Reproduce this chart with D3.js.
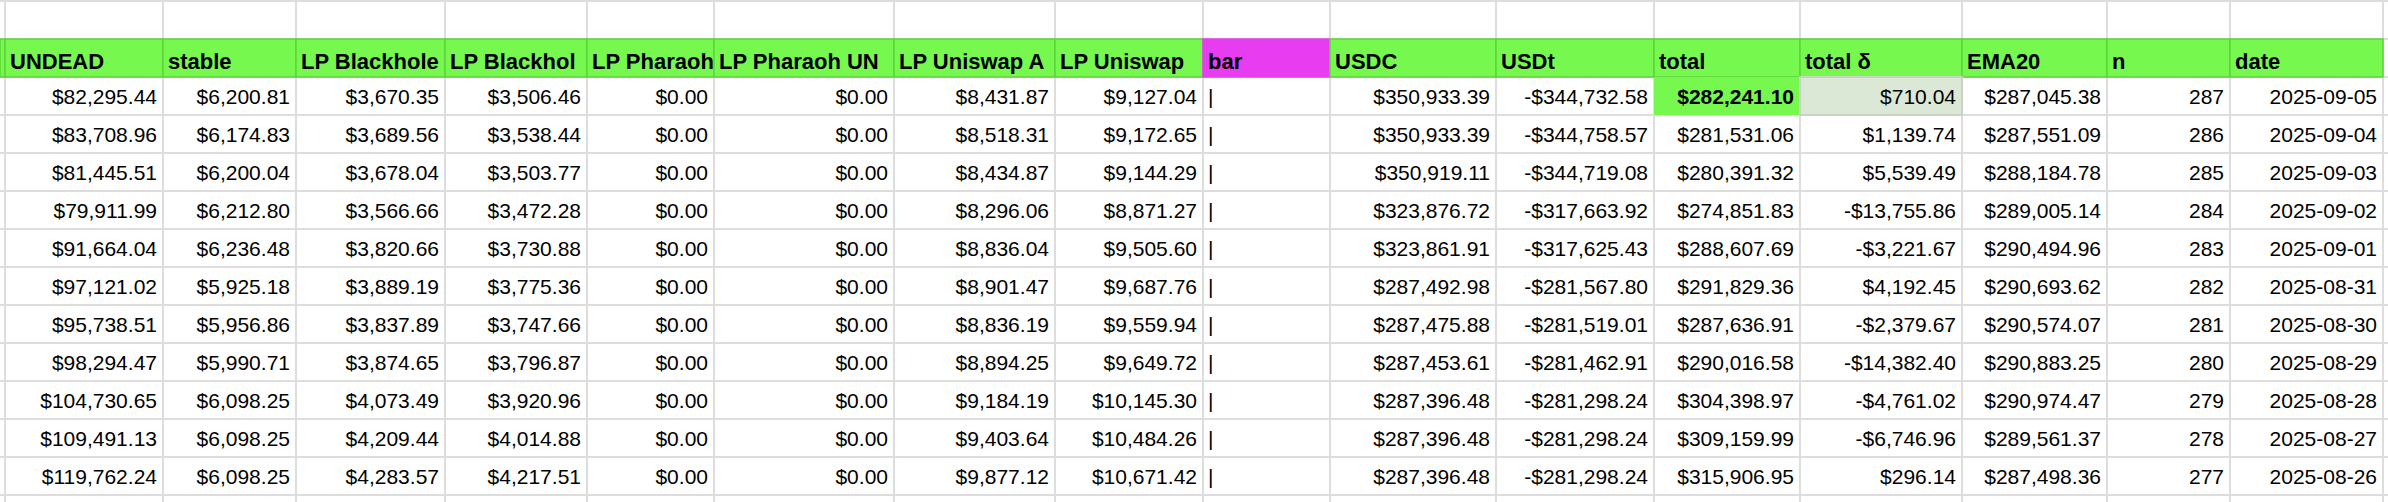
<!DOCTYPE html>
<html><head><meta charset="utf-8">
<script src="https://cdn.jsdelivr.net/npm/d3@7"></script>
<style>body{margin:0;background:#fff}svg{display:block}</style>
</head><body><div id="sheet"></div>
<script>
// header labels as visible in the (clipped) spreadsheet cells
const headers = ['', 'UNDEAD', 'stable', 'LP Blackhole', 'LP Blackhol', 'LP Pharaoh', 'LP Pharaoh UN',
  'LP Uniswap A', 'LP Uniswap', 'bar', 'USDC', 'USDt', 'total', 'total δ', 'EMA20', 'n', 'date'];

const undead = [82295.44, 83708.96, 81445.51, 79911.99, 91664.04, 97121.02, 95738.51, 98294.47, 104730.65, 109491.13, 119762.24];
const stable = [6200.81, 6174.83, 6200.04, 6212.80, 6236.48, 5925.18, 5956.86, 5990.71, 6098.25, 6098.25, 6098.25];
const lpBlackhole1 = [3670.35, 3689.56, 3678.04, 3566.66, 3820.66, 3889.19, 3837.89, 3874.65, 4073.49, 4209.44, 4283.57];
const lpBlackhole2 = [3506.46, 3538.44, 3503.77, 3472.28, 3730.88, 3775.36, 3747.66, 3796.87, 3920.96, 4014.88, 4217.51];
const lpPharaoh1 = [0, 0, 0, 0, 0, 0, 0, 0, 0, 0, 0];
const lpPharaoh2 = [0, 0, 0, 0, 0, 0, 0, 0, 0, 0, 0];
const lpUniswap1 = [8431.87, 8518.31, 8434.87, 8296.06, 8836.04, 8901.47, 8836.19, 8894.25, 9184.19, 9403.64, 9877.12];
const lpUniswap2 = [9127.04, 9172.65, 9144.29, 8871.27, 9505.60, 9687.76, 9559.94, 9649.72, 10145.30, 10484.26, 10671.42];
const bar = ['|', '|', '|', '|', '|', '|', '|', '|', '|', '|', '|'];
const usdc = [350933.39, 350933.39, 350919.11, 323876.72, 323861.91, 287492.98, 287475.88, 287453.61, 287396.48, 287396.48, 287396.48];
const usdt = [-344732.58, -344758.57, -344719.08, -317663.92, -317625.43, -281567.80, -281519.01, -281462.91, -281298.24, -281298.24, -281298.24];
const total = [282241.10, 281531.06, 280391.32, 274851.83, 288607.69, 291829.36, 287636.91, 290016.58, 304398.97, 309159.99, 315906.95];
const totalDelta = [710.04, 1139.74, 5539.49, -13755.86, -3221.67, 4192.45, -2379.67, -14382.40, -4761.02, -6746.96, 296.14];
const ema20 = [287045.38, 287551.09, 288184.78, 289005.14, 290494.96, 290693.62, 290574.07, 290883.25, 290974.47, 289561.37, 287498.36];
const n = [287, 286, 285, 284, 283, 282, 281, 280, 279, 278, 277];
const dates = ['2025-09-05', '2025-09-04', '2025-09-03', '2025-09-02', '2025-09-01', '2025-08-31', '2025-08-30', '2025-08-29', '2025-08-28', '2025-08-27', '2025-08-26'];

// column edges in px
const edges = [0, 5, 163, 296, 445, 587, 714, 894, 1055, 1203, 1330, 1496, 1654, 1800, 1962, 2107, 2230, 2383, 2388];

const money = v => (v < 0 ? '-$' : '$') + d3.format(',.2f')(Math.abs(v));
const cols = [null, undead, stable, lpBlackhole1, lpBlackhole2, lpPharaoh1, lpPharaoh2, lpUniswap1, lpUniswap2,
  bar, usdc, usdt, total, totalDelta, ema20, n, dates];
const fmt = (c, v) => c === 9 || c === 16 ? v : c === 15 ? String(v) : money(v);

const W = 2388, H = 502, rowH = 38;
const nRows = undead.length;
const y = d3.scaleLinear().domain([0, 1]).range([39, 39 + rowH]); // row 0 = header
const x = i => edges[i];

const svg = d3.select('#sheet').append('svg').attr('width', W).attr('height', H)
  .style('font-family', 'Arial, "Liberation Sans", sans-serif').style('font-size', '21px');

const defs = svg.append('defs');
d3.range(headers.length).forEach(c => {
  defs.append('clipPath').attr('id', 'clip' + c)
    .append('rect').attr('x', x(c) + 1).attr('y', 0).attr('width', x(c + 1) - x(c) - 2).attr('height', H);
});

// grid
const grid = svg.append('g').attr('stroke', '#dddddd').attr('stroke-width', 2);
edges.slice(1, -1).forEach(e => grid.append('line').attr('x1', e).attr('x2', e).attr('y1', 0).attr('y2', H));
d3.range(0, nRows + 2).forEach(r => grid.append('line').attr('x1', 0).attr('x2', W).attr('y1', y(r)).attr('y2', y(r)));
grid.append('line').attr('x1', 0).attr('x2', W).attr('y1', 1).attr('y2', 1);

// header row
const hdr = svg.append('g');
headers.forEach((h, c) => {
  hdr.append('rect').attr('x', x(c)).attr('y', y(0)).attr('width', x(c + 1) - x(c)).attr('height', rowH)
    .attr('fill', c === 9 ? '#e83cf0' : '#76f84f').attr('stroke', c === 9 ? '#e83cf0' : '#5fd33c').attr('stroke-width', 1.5);
  hdr.append('text').attr('clip-path', `url(#clip${c})`).attr('x', x(c) + 5).attr('y', y(0) + 30)
    .attr('font-weight', 'bold').style('font-size', '22px').text(h);
});

// highlighted cells in first data row
svg.append('rect').attr('x', x(12)).attr('y', y(1)).attr('width', x(13) - x(12)).attr('height', rowH).attr('fill', '#76f84f');
svg.append('rect').attr('x', x(13)).attr('y', y(1)).attr('width', x(14) - x(13)).attr('height', rowH)
  .attr('fill', '#dce8d6').attr('stroke', '#c9d3c4').attr('stroke-width', 2);

// data cells
const body = svg.append('g');
cols.forEach((vals, c) => {
  if (!vals) return;
  body.selectAll(null).data(vals).join('text')
    .attr('clip-path', `url(#clip${c})`)
    .attr('x', c === 9 ? x(c) + 5 : x(c + 1) - 6)
    .attr('y', (d, i) => y(i + 1) + 27)
    .attr('text-anchor', c === 9 ? 'start' : 'end')
    .attr('font-weight', (d, i) => c === 12 && i === 0 ? 'bold' : null)
    .text(d => fmt(c, d));
});
</script></body></html>
